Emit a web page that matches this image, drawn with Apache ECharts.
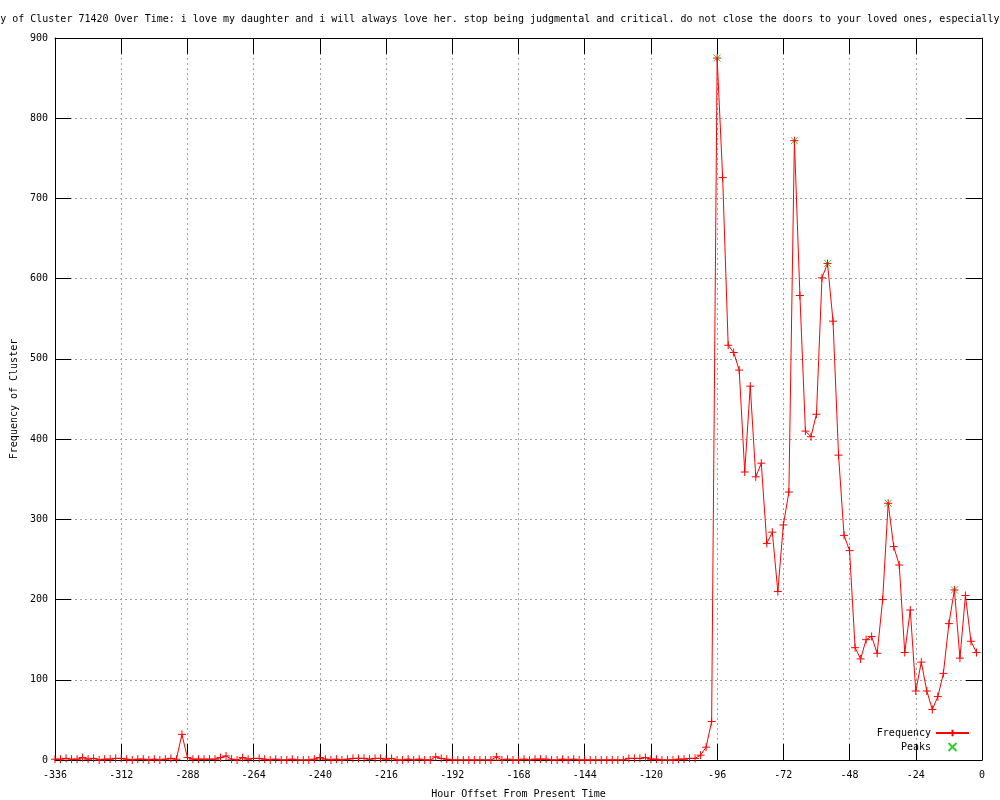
<!DOCTYPE html>
<html>
<head>
<meta charset="utf-8">
<script src="https://cdn.jsdelivr.net/npm/echarts@6/dist/echarts.min.js"></script>
<style>
html,body{margin:0;padding:0;background:#fff;}
#chart{width:1000px;height:800px;}
</style>
</head>
<body>
<div id="chart"></div>
<script>
// Hour offsets (2-hour bins)
var hours = [
 -336,-334,-332,-330,-328,-326,-324,-322,-320,-318,
 -316,-314,-312,-310,-308,-306,-304,-302,-300,-298,
 -296,-294,-292,-290,-288,-286,-284,-282,-280,-278,
 -276,-274,-272,-270,-268,-266,-264,-262,-260,-258,
 -256,-254,-252,-250,-248,-246,-244,-242,-240,-238,
 -236,-234,-232,-230,-228,-226,-224,-222,-220,-218,
 -216,-214,-212,-210,-208,-206,-204,-202,-200,-198,
 -196,-194,-192,-190,-188,-186,-184,-182,-180,-178,
 -176,-174,-172,-170,-168,-166,-164,-162,-160,-158,
 -156,-154,-152,-150,-148,-146,-144,-142,-140,-138,
 -136,-134,-132,-130,-128,-126,-124,-122,-120,-118,
 -116,-114,-112,-110,-108,-106,-104,-102,-100,-98,
 -96,-94,-92,-90,-88,-86,-84,-82,-80,-78,
 -76,-74,-72,-70,-68,-66,-64,-62,-60,-58,
 -56,-54,-52,-50,-48,-46,-44,-42,-40,-38,
 -36,-34,-32,-30,-28,-26,-24,-22,-20,-18,
 -16,-14,-12,-10,-8,-6,-4,-2
];
var frequency = [
 1,1,2,1,1,3,1,2,0,1,
 1,2,2,1,0,1,1,0,1,0,
 1,2,1,32,3,1,1,1,1,1,
 3,5,1,0,3,1,2,2,1,0,
 1,0,0,1,0,0,0,1,3,1,
 0,1,0,1,2,2,2,1,2,2,
 1,2,0,0,1,0,1,0,0,4,
 2,1,0,0,0,0,0,0,0,0,
 4,0,1,0,0,1,0,1,1,1,
 0,0,1,0,1,0,0,0,0,0,
 0,0,0,0,2,2,2,3,1,1,
 0,0,0,1,1,2,2,6,16,48,
 875,726,517,508,486,359,466,353,370,270,
 284,210,293,334,772,579,410,403,431,601,
 619,547,380,280,261,140,126,150,154,133,
 200,320,266,243,134,187,86,122,86,63,
 79,108,170,212,127,205,148,134
];
var peakHours = [-96,-68,-56,-34,-10];
var peakValues = [875,772,619,320,212];
var xTicks = {min:-336, max:0, step:24};
var yTicks = {min:0, max:900, step:100};

var titleText = 'Frequency of Cluster 71420 Over Time: i love my daughter and i will always love her. stop being judgmental and critical. do not close the doors to your loved ones, especially';

var FONT = 'DejaVu Sans Mono';
var freqData = hours.map(function(h,i){return [h, frequency[i]];});
var peakData = peakHours.map(function(h,i){return [h, peakValues[i]];});

var plusPath = 'path://M0,5L10,5M5,0L5,10';
var xPath = 'path://M0,0L10,10M10,0L0,10';

var txt = {fontFamily: FONT, fontSize: 10, color: '#000'};
function axisBase(extra){
  var o = {
    type:'value',
    axisLine:{show:true, onZero:false, lineStyle:{color:'#000', width:1}},
    axisTick:{show:true, inside:true, length:16, lineStyle:{color:'#000', width:1}},
    splitLine:{show:false},
    axisLabel:{show:false}
  };
  for (var k in extra) o[k] = extra[k];
  return o;
}
var gridLine = {show:true, lineStyle:{color:'#a0a0a0', width:1, type:[2,3]}};

var chart = echarts.init(document.getElementById('chart'), null, {renderer:'canvas'});
chart.setOption({
  animation:false,
  backgroundColor:'#fff',
  title:{
    text: titleText,
    left: -48, top: 14,
    padding: 0,
    textStyle:{fontFamily: FONT, fontSize: 10, fontWeight:'normal', color:'#000'}
  },
  grid:{left:55, right:18, top:38, bottom:40, containLabel:false, outerBoundsMode:'none'},
  legend:{
    data:['Frequency','Peaks'],
    orient:'vertical', align:'right',
    right:30, bottom:48, padding:0,
    itemWidth:33, itemHeight:8, itemGap:4,
    textStyle: txt,
    selectedMode:false
  },
  xAxis:[
    axisBase({position:'bottom', min:xTicks.min, max:xTicks.max, interval:xTicks.step,
      axisLabel:{show:true, margin:10, fontFamily:FONT, fontSize:10, color:'#000'},
      splitLine: gridLine,
      name:'Hour Offset From Present Time', nameLocation:'middle', nameGap:29,
      nameTextStyle: txt}),
    axisBase({position:'top', min:xTicks.min, max:xTicks.max, interval:xTicks.step})
  ],
  yAxis:[
    axisBase({position:'left', min:yTicks.min, max:yTicks.max, interval:yTicks.step,
      axisLabel:{show:true, margin:7, fontFamily:FONT, fontSize:10, color:'#000'},
      splitLine: gridLine,
      name:'Frequency of Cluster', nameLocation:'middle', nameGap:36, nameRotate:90,
      nameTextStyle: txt}),
    axisBase({position:'right', min:yTicks.min, max:yTicks.max, interval:yTicks.step})
  ],
  series:[
    {
      name:'Peaks', type:'scatter', xAxisIndex:0, yAxisIndex:0,
      data: peakData, symbol: xPath, symbolSize:7, symbolKeepAspect:true,
      itemStyle:{color:'#00c000', borderColor:'#00c000', borderWidth:1},
      emphasis:{disabled:true}, z:2
    },
    {
      name:'Frequency', type:'line', xAxisIndex:0, yAxisIndex:0,
      data: freqData, symbol: plusPath, symbolSize:8, showAllSymbol:true,
      lineStyle:{color:'#ff0000', width:1},
      itemStyle:{color:'#ff0000', borderColor:'#ff0000', borderWidth:1},
      emphasis:{disabled:true}, z:3
    }
  ]
});
</script>
</body>
</html>
